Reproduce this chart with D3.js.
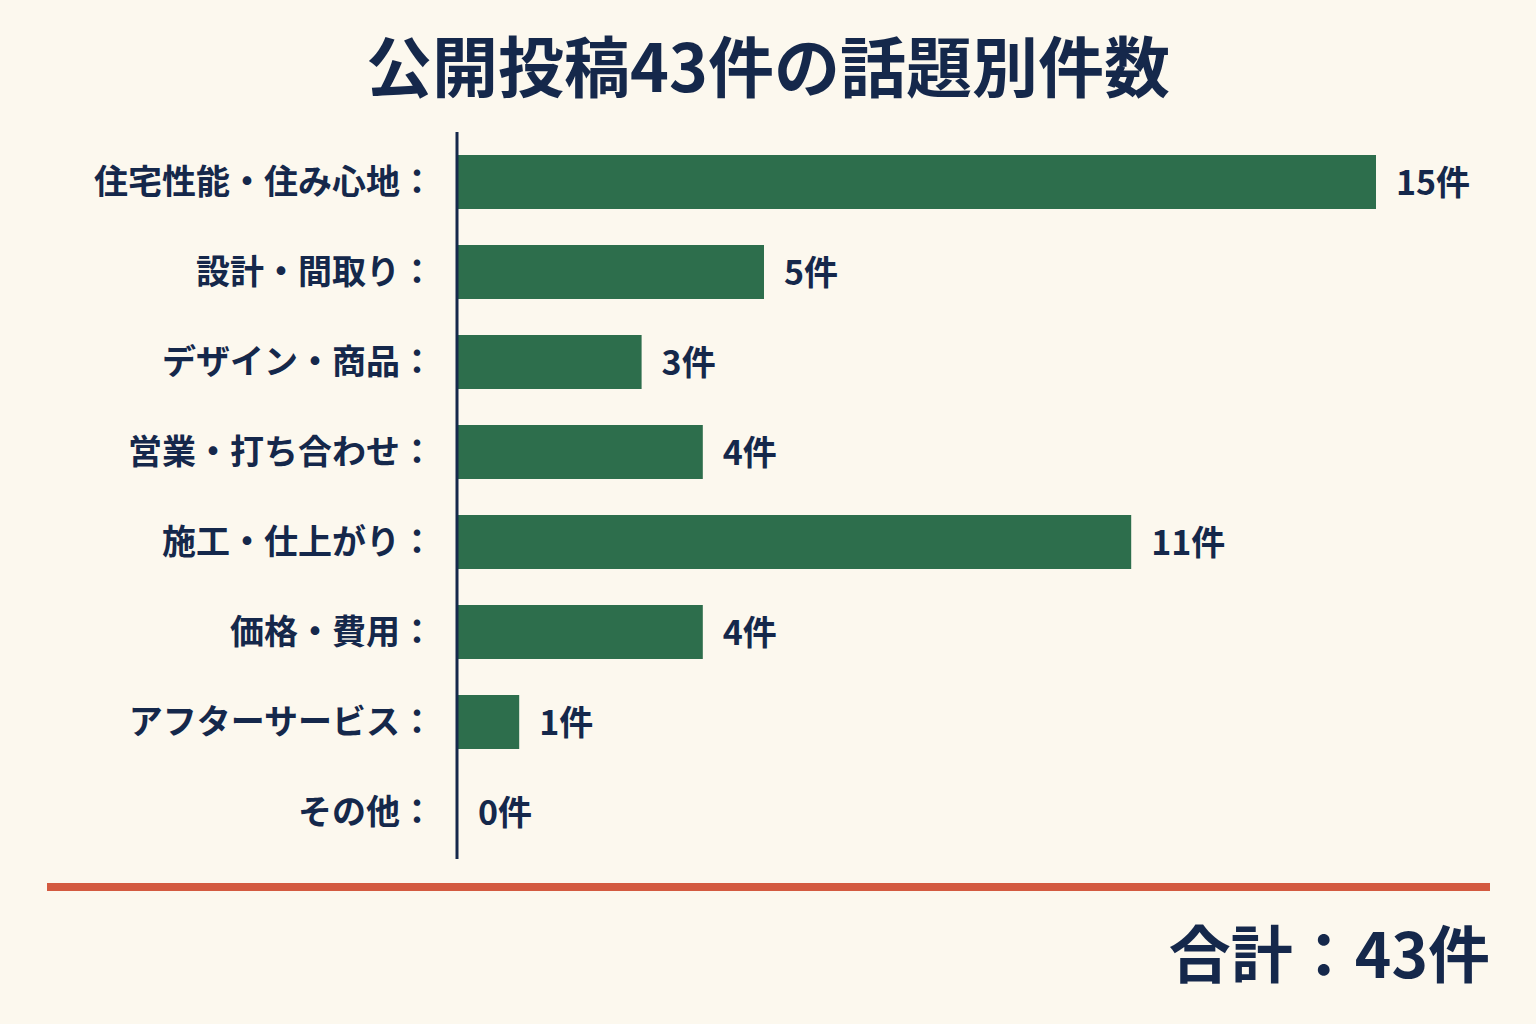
<!DOCTYPE html>
<html><head><meta charset="utf-8">
<script src="https://cdn.jsdelivr.net/npm/d3@7"></script>
<style>body{margin:0;background:#fcf8ee;}text{font-family:"Noto Sans CJK JP","Noto Sans",sans-serif;font-weight:700;fill:#15284b;}</style>
</head><body><svg id="c" width="1536" height="1024"></svg>
<script>
var categories = ["住宅性能・住み心地", "設計・間取り", "デザイン・商品", "営業・打ち合わせ", "施工・仕上がり", "価格・費用", "アフターサービス", "その他"];
var counts = [15, 5, 3, 4, 11, 4, 1, 0];
var title = "公開投稿43件の話題別件数";
var totalLabel = "合計：43件";

var svg = d3.select("#c");
svg.append("rect").attr("width", 1536).attr("height", 1024).attr("fill", "#fcf8ee");

svg.append("text").attr("x", 768).attr("y", 92).attr("text-anchor", "middle")
  .attr("font-size", 66).text(title);

var x = d3.scaleLinear().domain([0, 15]).range([458, 1376]);
var y = d3.scaleBand().domain(categories).range([137, 857]).paddingInner(0.4).paddingOuter(0.2);

svg.selectAll(".bar").data(categories).enter().append("rect")
  .attr("x", x(0)).attr("y", function(d) { return y(d); })
  .attr("width", function(d, i) { return x(counts[i]) - x(0); })
  .attr("height", y.bandwidth()).attr("fill", "#2d6e4c");

svg.selectAll(".lab").data(categories).enter().append("text")
  .attr("x", 434).attr("y", function(d) { return y(d) + y.bandwidth() / 2; })
  .attr("dy", "0.35em").attr("text-anchor", "end").attr("font-size", 34)
  .text(function(d) { return d + "："; });

svg.selectAll(".val").data(categories).enter().append("text")
  .attr("x", function(d, i) { return x(counts[i]) + 20; })
  .attr("y", function(d) { return y(d) + y.bandwidth() / 2; })
  .attr("dy", "0.38em").attr("font-size", 34)
  .text(function(d, i) { return counts[i] + "件"; });

svg.append("line").attr("x1", 457).attr("x2", 457).attr("y1", 132).attr("y2", 859)
  .attr("stroke", "#15284b").attr("stroke-width", 3);

svg.append("line").attr("x1", 47).attr("x2", 1490).attr("y1", 887).attr("y2", 887)
  .attr("stroke", "#d35a40").attr("stroke-width", 8);

svg.append("text").attr("x", 1490).attr("y", 978).attr("text-anchor", "end")
  .attr("font-size", 62).text(totalLabel);
</script></body></html>
